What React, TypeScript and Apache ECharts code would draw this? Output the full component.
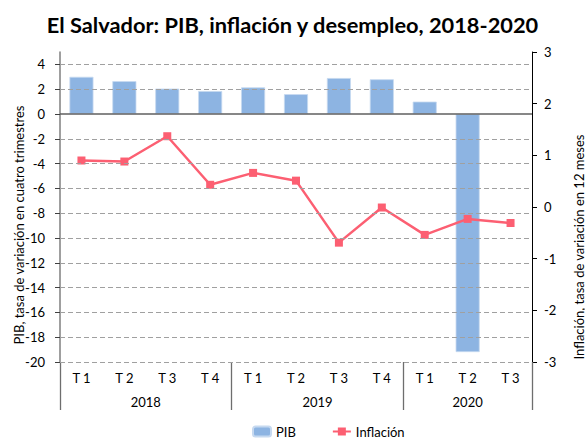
import React, { useEffect, useRef } from "react";
import * as echarts from "echarts";

const categories = ["T 1", "T 2", "T 3", "T 4", "T 1", "T 2", "T 3", "T 4", "T 1", "T 2", "T 3"];
const years = ["2018", "2019", "2020"];
const quartersPerYear = [4, 4, 3];
const pib = [3.0, 2.65, 2.05, 1.85, 2.15, 1.6, 2.9, 2.8, 1.0, -19.2, null];
const inflacion = [0.9, 0.88, 1.37, 0.43, 0.66, 0.51, -0.69, -0.01, -0.54, -0.23, -0.31];
const leftTicks = [-20, -18, -16, -14, -12, -10, -8, -6, -4, -2, 0, 2, 4];
const rightTicks = [-3, -2, -1, 0, 1, 2, 3];

const FONT = "Lato";

export default function App() {
  const ref = useRef<HTMLDivElement>(null);
  useEffect(() => {
    if (!ref.current) return;
    const chart = echarts.init(ref.current, null, { renderer: "svg" });

    const bounds: number[] = [0];
    const centers: number[] = [];
    quartersPerYear.forEach((n) => {
      const start = bounds[bounds.length - 1];
      centers.push(start + n / 2);
      bounds.push(start + n);
    });
    const total = bounds[bounds.length - 1];

    const gridValues = leftTicks.filter((v) => v !== 0);

    chart.setOption({
      animation: false,
      textStyle: { fontFamily: FONT },
      title: {
        text: "El Salvador: PIB, inflación y desempleo, 2018-2020",
        left: "center",
        top: 8,
        textStyle: { fontFamily: FONT, fontWeight: "bold", fontSize: 21.8, color: "#000" },
      },
      grid: { left: 60, top: 52, width: 472, height: 310, containLabel: false, outerBoundsMode: "none" },
      legend: {
        data: ["PIB", "Inflación"],
        left: 247,
        top: 420,
        itemWidth: 18,
        itemHeight: 10,
        itemGap: 36,
        textStyle: { fontFamily: FONT, fontSize: 13, color: "#000" },
      },
      xAxis: [
        {
          type: "category",
          data: categories,
          axisLine: { show: false, onZero: false },
          axisTick: { show: false },
          axisLabel: { margin: 9, fontSize: 13, color: "#000", fontFamily: FONT },
          splitLine: { show: false },
        },
        {
          type: "value",
          min: 0,
          max: total,
          position: "bottom",
          axisLine: { show: false, onZero: false },
          splitLine: { show: false },
          axisTick: {
            show: true,
            customValues: bounds,
            length: 48,
            lineStyle: { color: "#6e6e6e", width: 1.3 },
          },
          axisLabel: {
            customValues: centers,
            margin: 33,
            fontSize: 13,
            color: "#000",
            fontFamily: FONT,
            formatter: (v: number) => {
              const i = centers.indexOf(v);
              return i >= 0 ? years[i] : "";
            },
          },
        },
      ],
      yAxis: [
        {
          type: "value",
          min: -20,
          max: 5,
          interval: 2,
          position: "left",
          name: "PIB, tasa de variación en cuatro trimestres",
          nameLocation: "middle",
          nameRotate: 90,
          nameGap: 35,
          nameMoveOverlap: false,
          nameTextStyle: { fontSize: 13, color: "#000", fontFamily: FONT, padding: [0, 36, 0, 0] },
          axisLine: { show: true, onZero: false, lineStyle: { color: "#7f7f7f", width: 1.5 } },
          axisTick: { show: true, customValues: leftTicks, length: 5, lineStyle: { color: "#404040" } },
          axisLabel: {
            customValues: leftTicks,
            margin: 15,
            fontSize: 13,
            color: "#000",
            fontFamily: FONT,
            formatter: (v: number) => (v > 4 ? "" : String(v)),
          },
          splitLine: { show: false },
        },
        {
          type: "value",
          min: -3,
          max: 3,
          interval: 1,
          position: "right",
          name: "Inflación, tasa de variación en 12 meses",
          nameLocation: "middle",
          nameRotate: 90,
          nameGap: 40,
          nameMoveOverlap: false,
          nameTextStyle: { fontSize: 13, color: "#000", fontFamily: FONT, padding: [0, 80, 0, 0] },
          axisLine: { show: true, onZero: false, lineStyle: { color: "#000", width: 1 } },
          axisTick: { show: true, customValues: rightTicks, length: 5, lineStyle: { color: "#000" } },
          axisLabel: { customValues: rightTicks, margin: 12, fontSize: 13, color: "#000", fontFamily: FONT },
          splitLine: { show: false },
        },
      ],
      series: [
        {
          type: "line",
          xAxisIndex: 0,
          yAxisIndex: 0,
          data: categories.map(() => null),
          z: 1,
          silent: true,
          markLine: {
            silent: true,
            symbol: "none",
            label: { show: false },
            lineStyle: { type: [5, 3], color: "#a0a0a0", width: 1 },
            data: gridValues.map((v) => ({ yAxis: v })),
          },
        },
        {
          name: "PIB",
          type: "bar",
          xAxisIndex: 0,
          yAxisIndex: 0,
          data: pib,
          barWidth: "56%",
          z: 2,
          itemStyle: { color: "#8db4e2", borderColor: "#c6d9f0", borderWidth: 0.8 },
          markLine: {
            silent: true,
            symbol: "none",
            label: { show: false },
            lineStyle: { type: "solid", color: "#5f5f5f", width: 1.6 },
            data: [{ yAxis: 0 }],
          },
        },
        {
          name: "Inflación",
          type: "line",
          xAxisIndex: 0,
          yAxisIndex: 1,
          data: inflacion,
          z: 3,
          symbol: "rect",
          symbolSize: 8,
          lineStyle: { color: "#fc5f72", width: 2.5 },
          itemStyle: { color: "#fc5f72" },
        },
      ],
    });
    return () => chart.dispose();
  }, []);
  return (
    <div
      ref={ref}
      style={{ position: "absolute", left: 0, top: 0, width: 585, height: 439 }}
    />
  );
}
